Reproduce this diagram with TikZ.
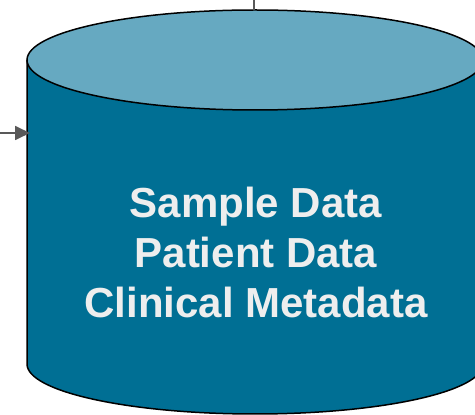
\documentclass[tikz,border=0pt]{standalone}
\usepackage{fontspec}
\setmainfont{Liberation Sans}
\usetikzlibrary{arrows.meta}
\definecolor{bodyblue}{HTML}{006F94}
\definecolor{topblue}{HTML}{66A9C1}
\definecolor{txtgray}{HTML}{EEEEEE}
\definecolor{linegray}{HTML}{595959}
\tikzset{
  outline/.style={draw=black, line width=1.5pt},
  conn/.style={draw=linegray, line width=1.8pt},
  arr/.style={conn, -{Triangle[length=15pt,width=14pt]}},
  dblabel/.style={text=txtgray, align=center, font=\fontsize{42}{50}\selectfont\bfseries}
}
\begin{document}
\begin{tikzpicture}[x=1pt,y=1pt]
\useasboundingbox (0,0) rectangle (475,415);
\clip (0,0) rectangle (475,415);
% cylinder body
\path[fill=bodyblue, outline] (27,355) -- (27,51) arc[start angle=180, end angle=360, x radius=228, y radius=50] -- (483,355);
% cylinder top
\path[fill=topblue, outline] (255,355) ellipse[x radius=228, y radius=50];
% label
\node[dblabel] (db) at (256,163) {Sample Data\\Patient Data\\Clinical Metadata};
% connector endpoints
\coordinate (leftsrc) at (0,282);
\coordinate (leftin) at (30,282);
\coordinate (topsrc) at (254,415);
\coordinate (topin) at (254,405);
\draw[arr] (leftsrc) -- (leftin);
\draw[conn] (topsrc) -- (topin);
\end{tikzpicture}
\end{document}
